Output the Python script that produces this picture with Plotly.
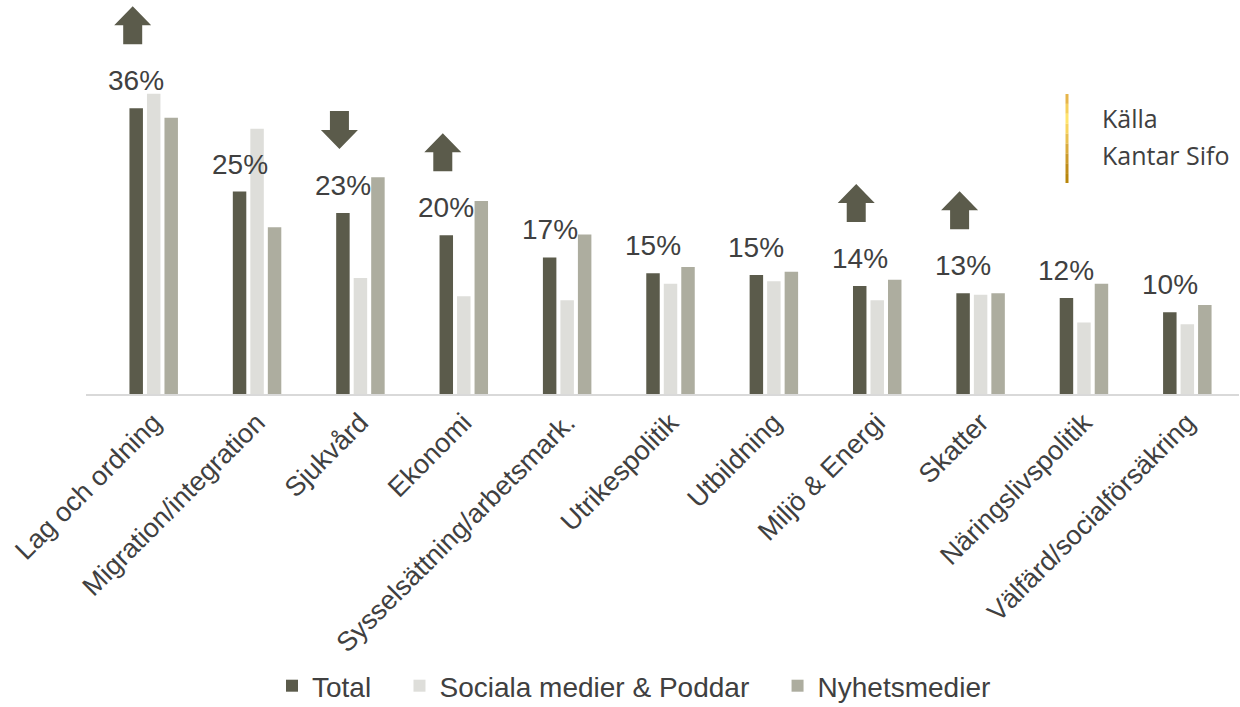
import plotly.graph_objects as go

categories = ["Lag och ordning", "Migration/integration", "Sjukvård", "Ekonomi",
              "Sysselsättning/arbetsmark.", "Utrikespolitik", "Utbildning",
              "Miljö & Energi", "Skatter", "Näringslivspolitik", "Välfärd/socialförsäkring"]
total = [36.0, 25.5, 22.8, 20.0, 17.2, 15.2, 15.0, 13.6, 12.7, 12.1, 10.3]
social = [37.8, 33.4, 14.6, 12.3, 11.8, 13.9, 14.2, 11.8, 12.5, 9.0, 8.8]
news = [34.8, 21.0, 27.3, 24.3, 20.1, 16.0, 15.4, 14.4, 12.7, 13.9, 11.2]
total_labels = ["36%", "25%", "23%", "20%", "17%", "15%", "15%", "14%", "13%", "12%", "10%"]
trend = ["up", "", "down", "up", "", "", "", "up", "up", "", ""]
series_names = ["Total", "Sociala medier & Poddar", "Nyhetsmedier"]
source_lines = ["Källa", "Kantar Sifo"]

C_TOTAL = "#5b5b4b"
C_SOCIAL = "#dededa"
C_NEWS = "#adad9f"
TXT = "#404040"
FONT = "Liberation Sans, Arial, sans-serif"

W, H = 1240, 707
ML, MR, MT, MB = 86, 1, 0, 313
PW, PH = W - ML - MR, H - MT - MB


def px2paper(x, y):
    return (x - ML) / PW, (H - MB - y) / PH


NBSP = "\u00a0"
fig = go.Figure()
for k, (name, vals, col) in enumerate(zip(series_names, [total, social, news],
                                          [C_TOTAL, C_SOCIAL, C_NEWS])):
    label = name + (NBSP * 3 if k < len(series_names) - 1 else "")
    fig.add_trace(go.Bar(x=categories, y=vals, name=label, marker_color=col,
                         marker_line_width=0, hoverinfo="skip"))

# value labels above Total bars
for cat, v, lab in zip(categories, total, total_labels):
    fig.add_annotation(x=cat, y=v, text=lab, showarrow=False, xshift=-17.5, yshift=10,
                       yanchor="bottom", font=dict(family=FONT, size=28, color=TXT))

# trend arrows
cx = -21
for cat, v, t in zip(categories, total, trend):
    if not t:
        continue
    if t == "up":
        pts = [(cx - 9.5, 64), (cx + 9.5, 64), (cx + 9.5, 83), (cx + 18.5, 83), (cx, 102),
               (cx - 18.5, 83), (cx - 9.5, 83)]
    else:
        pts = [(cx - 9.5, 102), (cx + 9.5, 102), (cx + 9.5, 83), (cx + 18.5, 83), (cx, 64),
               (cx - 18.5, 83), (cx - 9.5, 83)]
    path = "M" + " L".join(f"{a},{b}" for a, b in pts) + " Z"
    fig.add_shape(type="path", path=path, xref="x", yref="y", xsizemode="pixel",
                  ysizemode="pixel", xanchor=cat, yanchor=v, fillcolor=C_TOTAL,
                  line=dict(width=0))

# source box: gradient gold line
grad = ["#e6b54a", "#f5cf5a", "#ffe46c", "#f7d45e", "#e8c050", "#d9ab3c", "#cb9a2a", "#bf8c18", "#b8860b"]
y_top, y_bot, lx = 94, 183, 1067
n = len(grad)
for i, c in enumerate(grad):
    ya = y_top + (y_bot - y_top) * i / n
    yb = y_top + (y_bot - y_top) * (i + 1) / n
    x0, y0 = px2paper(lx, ya)
    _, y1 = px2paper(lx, yb)
    fig.add_shape(type="line", xref="paper", yref="paper", x0=x0, x1=x0, y0=y0, y1=y1,
                  line=dict(color=c, width=3))

for txt, base in zip(source_lines, [125, 162]):
    xp, yp = px2paper(1100, base - 7)
    fig.add_annotation(xref="paper", yref="paper", x=xp, y=yp, text=txt, showarrow=False,
                       xanchor="left", yanchor="middle",
                       font=dict(family="Open Sans, sans-serif", size=25, color=TXT))

fig.update_layout(
    width=W, height=H,
    margin=dict(l=ML, r=MR, t=MT, b=MB, autoexpand=False),
    paper_bgcolor="white", plot_bgcolor="white",
    barmode="group", bargap=0.492, bargroupgap=0.23,
    font=dict(family=FONT, color=TXT),
    showlegend=True,
    legend=dict(orientation="h", x=px2paper(634, 0)[0], xanchor="center",
                y=px2paper(0, 711)[1], yanchor="bottom",
                font=dict(family=FONT, size=28, color=TXT),
                bgcolor="rgba(0,0,0,0)"),
    xaxis=dict(range=[-0.655, 10.5], showline=True, linecolor="#d9d9d9", linewidth=2,
               ticks="", showgrid=False, tickangle=-45, automargin=False,
               tickfont=dict(family=FONT, size=27, color=TXT)),
    yaxis=dict(range=[0, PH / 7.94], visible=False, showgrid=False, zeroline=False,
               automargin=False),
)

fig.write_html("out.html")
